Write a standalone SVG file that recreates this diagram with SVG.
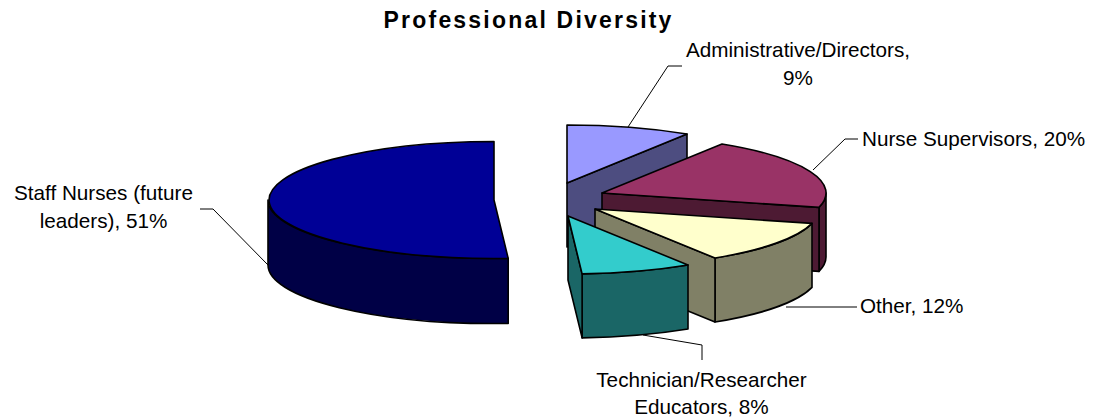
<svg xmlns="http://www.w3.org/2000/svg" width="1096" height="417" viewBox="0 0 1096 417">
<style>
.s{stroke:#000;stroke-width:1.6;stroke-linejoin:round}
.lbl{font-family:"Liberation Sans",Arial,sans-serif;font-size:20.7px;fill:#000}
.ttl{font-family:"Liberation Sans",Arial,sans-serif;font-size:23px;font-weight:bold;letter-spacing:2.2px;fill:#000}
.ld{fill:none;stroke:#000;stroke-width:1}
</style>
<rect width="1096" height="417" fill="#fff"/>
<text class="ttl" x="528.6" y="28" text-anchor="middle">Professional Diversity</text>
<g id="staff-nurses">
<path class="s" fill="#000046" d="M268,200 L268,265 A226,58.5 0 0 0 508.2,323.4 L508.2,258.4 A226,58.5 0 0 1 268,200 Z"/>
<path class="s" fill="#000096" d="M494,141.5 A226,58.5 0 1 0 508.2,258.4 L494,200 Z"/>
</g>
<g id="administrative">
<path class="s" fill="#4D4D80" d="M567,183 L687,134 L687,198 L567,247 Z"/>
<path class="s" fill="#9999FF" d="M567,125 A224,58 0 0 1 687,134 L567,183 Z"/>
</g>
<g id="nurse-supervisors">
<path class="s" fill="#4D1A33" d="M826,193 L826,257 A224,58 0 0 1 819,271.4 L819,207.4 A224,58 0 0 0 826,193 Z"/>
<path class="s" fill="#4D1A33" d="M602,193 L819,207.4 L819,271.4 L602,257 Z"/>
<path class="s" fill="#993366" d="M722,144 A224,58 0 0 1 819,207.4 L602,193 Z"/>
</g>
<g id="other">
<path class="s" fill="#808066" d="M812,223.4 L812,287.4 A224,58 0 0 1 715,322 L715,258 A224,58 0 0 0 812,223.4 Z"/>
<path class="s" fill="#808066" d="M595,209 L715,258 L715,322 L595,273 Z"/>
<path class="s" fill="#FFFFCC" d="M812,223.4 A224,58 0 0 1 715,258 L595,209 Z"/>
</g>
<g id="technician">
<path class="s" fill="#1A6666" d="M688,265 L688,329 A224,58 0 0 1 582.1,337.9 L582.1,273.9 A224,58 0 0 0 688,265 Z"/>
<path class="s" fill="#1A6666" d="M568,216 L582.1,273.9 L582.1,337.9 L568,280 Z"/>
<path class="s" fill="#33CCCC" d="M688,265 A224,58 0 0 1 582.1,273.9 L568,216 Z"/>
</g>
<g id="connectors">
<polyline class="ld" points="628,127 668,66 682,66"/>
<polyline class="ld" points="813,170 845,139 858,139"/>
<polyline class="ld" points="786,307 857,307"/>
<polyline class="ld" points="643,335 702,345 702,360"/>
<polyline class="ld" points="200,209 213,209 268,265"/>
</g>
<g id="labels">
<text class="lbl" x="798" y="57" text-anchor="middle">Administrative/Directors,</text>
<text class="lbl" x="798" y="84.5" text-anchor="middle">9%</text>
<text class="lbl" x="862" y="146">Nurse Supervisors, 20%</text>
<text class="lbl" x="860" y="313">Other, 12%</text>
<text class="lbl" x="701.5" y="387" text-anchor="middle">Technician/Researcher</text>
<text class="lbl" x="701.5" y="414" text-anchor="middle">Educators, 8%</text>
<text class="lbl" x="103.5" y="200" text-anchor="middle">Staff Nurses (future</text>
<text class="lbl" x="103.5" y="228" text-anchor="middle">leaders), 51%</text>
</g>
</svg>
